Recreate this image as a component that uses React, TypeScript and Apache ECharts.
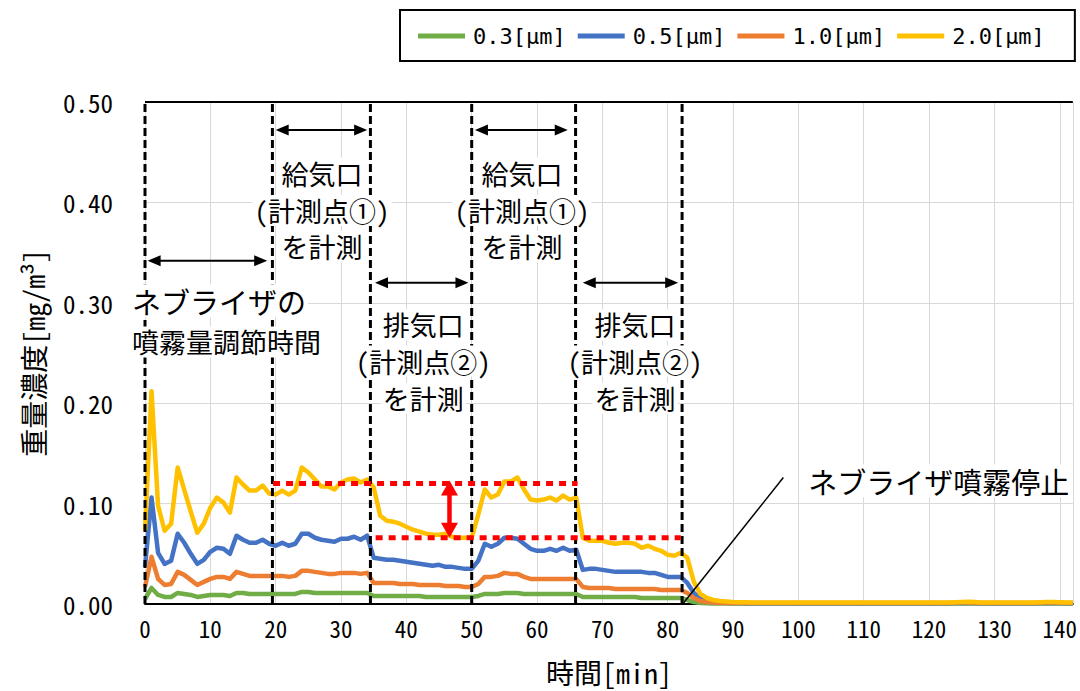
import { useEffect, useRef } from 'react';
import * as echarts from 'echarts';

// ---- data (time in minutes, mass concentration in mg/m3) ----
const TIME_MIN = [
  0, 1, 2, 3, 4, 5, 6, 7, 8, 9,
  10, 11, 12, 13, 14, 15, 16, 17, 18, 19,
  20, 21, 22, 23, 24, 25, 26, 27, 28, 29,
  30, 31, 32, 33, 34, 35, 36, 37, 38, 39,
  40, 41, 42, 43, 44, 45, 46, 47, 48, 49,
  50, 51, 52, 53, 54, 55, 56, 57, 58, 59,
  60, 61, 62, 63, 64, 65, 66, 67, 68, 69,
  70, 71, 72, 73, 74, 75, 76, 77, 78, 79,
  80, 81, 82, 83, 84, 85, 86, 87, 88, 89,
  90, 91, 92, 93, 94, 95, 96, 97, 98, 99,
  100, 101, 102, 103, 104, 105, 106, 107, 108, 109,
  110, 111, 112, 113, 114, 115, 116, 117, 118, 119,
  120, 121, 122, 123, 124, 125, 126, 127, 128, 129,
  130, 131, 132, 133, 134, 135, 136, 137, 138, 139,
  140, 141, 142,
];

const PM03 = [
  0.005, 0.016, 0.009, 0.007, 0.007, 0.011, 0.010, 0.009, 0.007, 0.008,
  0.009, 0.009, 0.009, 0.008, 0.011, 0.011, 0.010, 0.010, 0.010, 0.010,
  0.010, 0.010, 0.010, 0.010, 0.012, 0.012, 0.011, 0.011, 0.011, 0.011,
  0.011, 0.011, 0.011, 0.011, 0.011, 0.008, 0.008, 0.008, 0.008, 0.008,
  0.008, 0.008, 0.008, 0.007, 0.007, 0.007, 0.007, 0.007, 0.007, 0.007,
  0.007, 0.008, 0.010, 0.010, 0.010, 0.011, 0.011, 0.011, 0.010, 0.010,
  0.010, 0.010, 0.010, 0.010, 0.010, 0.010, 0.010, 0.007, 0.007, 0.007,
  0.007, 0.007, 0.007, 0.007, 0.007, 0.007, 0.006, 0.006, 0.006, 0.006,
  0.006, 0.006, 0.006, 0.004, 0.002, 0.001, 0.0007, 0.0006, 0.0005, 0.0005,
  0.0005, 0.0005, 0.0005, 0.0005, 0.0005, 0.0005, 0.0005, 0.0005, 0.0005, 0.0005,
  0.0005, 0.0005, 0.0005, 0.0005, 0.0005, 0.0005, 0.0005, 0.0005, 0.0005, 0.0005,
  0.0005, 0.0005, 0.0005, 0.0005, 0.0005, 0.0005, 0.0005, 0.0005, 0.0005, 0.0005,
  0.0005, 0.0005, 0.0005, 0.0005, 0.0005, 0.0005, 0.0005, 0.0005, 0.0005, 0.0005,
  0.0005, 0.0005, 0.0005, 0.0005, 0.0005, 0.0005, 0.0005, 0.0005, 0.0005, 0.0005,
  0.0005, 0.0005, 0.0005,
];

const PM05 = [
  0.037, 0.106, 0.051, 0.040, 0.043, 0.070, 0.061, 0.050, 0.040, 0.044,
  0.052, 0.056, 0.055, 0.050, 0.068, 0.064, 0.061, 0.061, 0.064, 0.060,
  0.058, 0.061, 0.058, 0.060, 0.070, 0.070, 0.066, 0.064, 0.063, 0.062,
  0.065, 0.065, 0.067, 0.064, 0.068, 0.046, 0.045, 0.044, 0.044, 0.043,
  0.042, 0.041, 0.040, 0.039, 0.038, 0.039, 0.037, 0.037, 0.036, 0.035,
  0.035, 0.043, 0.060, 0.057, 0.060, 0.066, 0.066, 0.065, 0.060, 0.055,
  0.053, 0.053, 0.055, 0.053, 0.056, 0.053, 0.054, 0.034, 0.035, 0.035,
  0.034, 0.033, 0.032, 0.032, 0.032, 0.032, 0.032, 0.031, 0.031, 0.029,
  0.027, 0.027, 0.027, 0.021, 0.011, 0.005, 0.003, 0.002, 0.0015, 0.0012,
  0.0010, 0.0009, 0.0008, 0.0008, 0.0008, 0.0008, 0.0008, 0.0008, 0.0008, 0.0008,
  0.0008, 0.0008, 0.0008, 0.0008, 0.0008, 0.0008, 0.0008, 0.0008, 0.0008, 0.0008,
  0.0008, 0.0008, 0.0008, 0.0008, 0.0008, 0.0008, 0.0008, 0.0008, 0.0008, 0.0008,
  0.0008, 0.0008, 0.0008, 0.0008, 0.0009, 0.0010, 0.0010, 0.0009, 0.0008, 0.0008,
  0.0008, 0.0008, 0.0008, 0.0008, 0.0008, 0.0008, 0.0008, 0.0009, 0.0010, 0.0010,
  0.0009, 0.0008, 0.0008,
];

const PM10 = [
  0.017, 0.047, 0.025, 0.019, 0.020, 0.032, 0.029, 0.024, 0.019, 0.022,
  0.025, 0.027, 0.027, 0.025, 0.032, 0.030, 0.028, 0.028, 0.028, 0.028,
  0.028, 0.028, 0.027, 0.028, 0.033, 0.033, 0.032, 0.031, 0.030, 0.030,
  0.031, 0.031, 0.031, 0.030, 0.031, 0.021, 0.021, 0.021, 0.021, 0.020,
  0.020, 0.020, 0.019, 0.019, 0.019, 0.019, 0.018, 0.018, 0.018, 0.017,
  0.017, 0.020, 0.027, 0.027, 0.028, 0.031, 0.030, 0.030, 0.027, 0.025,
  0.025, 0.025, 0.025, 0.025, 0.025, 0.025, 0.025, 0.017, 0.016, 0.016,
  0.016, 0.016, 0.015, 0.015, 0.015, 0.015, 0.015, 0.015, 0.015, 0.014,
  0.014, 0.014, 0.014, 0.011, 0.006, 0.003, 0.002, 0.0015, 0.0012, 0.0011,
  0.0010, 0.0010, 0.0010, 0.0010, 0.0010, 0.0010, 0.0010, 0.0010, 0.0010, 0.0010,
  0.0010, 0.0010, 0.0010, 0.0010, 0.0010, 0.0010, 0.0010, 0.0010, 0.0010, 0.0010,
  0.0010, 0.0010, 0.0010, 0.0010, 0.0010, 0.0010, 0.0010, 0.0010, 0.0010, 0.0010,
  0.0010, 0.0010, 0.0010, 0.0011, 0.0013, 0.0016, 0.0016, 0.0013, 0.0011, 0.0010,
  0.0010, 0.0010, 0.0010, 0.0010, 0.0010, 0.0010, 0.0011, 0.0013, 0.0015, 0.0015,
  0.0012, 0.0010, 0.0010,
];

const PM20 = [
  0.073, 0.212, 0.098, 0.073, 0.080, 0.136, 0.114, 0.092, 0.071, 0.080,
  0.096, 0.106, 0.101, 0.091, 0.126, 0.119, 0.113, 0.113, 0.118, 0.110,
  0.109, 0.113, 0.109, 0.113, 0.136, 0.131, 0.124, 0.117, 0.117, 0.114,
  0.121, 0.124, 0.125, 0.121, 0.124, 0.116, 0.088, 0.083, 0.082, 0.080,
  0.077, 0.074, 0.072, 0.070, 0.069, 0.069, 0.070, 0.067, 0.066, 0.066,
  0.066, 0.089, 0.114, 0.106, 0.109, 0.122, 0.122, 0.126, 0.114, 0.104,
  0.103, 0.104, 0.106, 0.103, 0.108, 0.104, 0.106, 0.066, 0.063, 0.063,
  0.063, 0.061, 0.060, 0.061, 0.061, 0.060, 0.056, 0.058, 0.055, 0.053,
  0.049, 0.048, 0.051, 0.046, 0.022, 0.010, 0.006, 0.004, 0.003, 0.0025,
  0.0020, 0.0018, 0.0017, 0.0016, 0.0015, 0.0015, 0.0014, 0.0015, 0.0015, 0.0014,
  0.0015, 0.0015, 0.0014, 0.0015, 0.0016, 0.0015, 0.0014, 0.0015, 0.0015, 0.0014,
  0.0015, 0.0016, 0.0015, 0.0014, 0.0015, 0.0015, 0.0014, 0.0015, 0.0015, 0.0016,
  0.0015, 0.0014, 0.0015, 0.0016, 0.0018, 0.0021, 0.0022, 0.0019, 0.0016, 0.0015,
  0.0014, 0.0015, 0.0015, 0.0014, 0.0015, 0.0015, 0.0016, 0.0018, 0.0020, 0.0021,
  0.0018, 0.0016, 0.0015,
];

const SERIES_NAMES = ['0.3[μm]', '0.5[μm]', '1.0[μm]', '2.0[μm]'];
const SERIES_DATA = [PM03, PM05, PM10, PM20];
const SERIES_COLORS = ['#70AD47', '#4472C4', '#ED7D31', '#FFC000'];

const X_TITLE = '時間[min]';
const Y_TITLE = '重量濃度[mg/m³]';
const X_MAX = 142;
const Y_MAX = 0.5;

// phase boundaries (min) and annotations in data coordinates
const PHASE_BOUNDARIES = [0, 19.5, 34.5, 50, 65.9, 82.2];
const PHASE_ARROWS = [
  { from: 0.4, to: 18.7, y: 0.342 },
  { from: 20.0, to: 34.0, y: 0.472 },
  { from: 35.2, to: 49.5, y: 0.32 },
  { from: 50.5, to: 64.7, y: 0.472 },
  { from: 67.0, to: 81.6, y: 0.32 },
];
const LEVEL_LINES = [
  { from: 19.6, to: 66.2, y: 0.12 },
  { from: 35.3, to: 82.0, y: 0.066 },
];
const DIFF_ARROW = { x: 46.6, top: 0.123, bottom: 0.066 };
const STOP_LEADER = { x1: 97.7, y1: 0.126, x2: 82.3, y2: 0 };
const ANNOTATIONS = [
  { x: -2.3, y: 0.302, text: 'ネブライザの', align: 'left', size: 29 },
  { x: -2.3, y: 0.261, text: '噴霧量調節時間', align: 'left', size: 27 },
  { x: 27.1, y: 0.429, text: '給気口', align: 'center', size: 27 },
  { x: 27.1, y: 0.392, text: '(計測点①)', align: 'center', size: 27 },
  { x: 27.1, y: 0.356, text: 'を計測', align: 'center', size: 27 },
  { x: 42.6, y: 0.278, text: '排気口', align: 'center', size: 27 },
  { x: 42.6, y: 0.242, text: '(計測点②)', align: 'center', size: 27 },
  { x: 42.6, y: 0.205, text: 'を計測', align: 'center', size: 27 },
  { x: 57.7, y: 0.429, text: '給気口', align: 'center', size: 27 },
  { x: 57.7, y: 0.392, text: '(計測点①)', align: 'center', size: 27 },
  { x: 57.7, y: 0.356, text: 'を計測', align: 'center', size: 27 },
  { x: 75.0, y: 0.278, text: '排気口', align: 'center', size: 27 },
  { x: 75.0, y: 0.242, text: '(計測点②)', align: 'center', size: 27 },
  { x: 75.0, y: 0.205, text: 'を計測', align: 'center', size: 27 },
  { x: 101.2, y: 0.1228, text: 'ネブライザ噴霧停止', align: 'left', size: 29 },
];

const MONO = "'Noto Sans Mono CJK JP', 'Noto Sans CJK JP', sans-serif";
const LEGEND_FONT = "'DejaVu Sans Mono', monospace";

export default function App() {
  const ref = useRef<HTMLDivElement>(null);

  useEffect(() => {
    if (!ref.current) return;
    const chart = echarts.init(ref.current, undefined, { renderer: 'svg' });

    chart.setOption({
      animation: false,
      backgroundColor: '#ffffff',
      grid: { left: 145, top: 102, right: 2, bottom: 84, containLabel: false },
      legend: {
        left: 400,
        top: 10,
        orient: 'horizontal',
        icon: 'rect',
        itemWidth: 47,
        itemHeight: 5,
        itemGap: 12,
        padding: [15, 30, 14, 18],
        borderColor: '#000',
        borderWidth: 2,
        textStyle: { fontFamily: LEGEND_FONT, fontSize: 22, color: '#000', padding: [0, 0, 0, 3] },
        data: SERIES_NAMES,
      },
      xAxis: {
        type: 'value',
        min: 0,
        max: X_MAX,
        interval: 10,
        name: X_TITLE,
        nameLocation: 'middle',
        nameGap: 54,
        nameTextStyle: { fontFamily: MONO, fontSize: 28, color: '#000' },
        axisLine: { show: true, lineStyle: { color: '#000', width: 2 } },
        axisTick: { show: false },
        axisLabel: {
          margin: 13,
          fontFamily: MONO,
          fontSize: 23,
          color: '#000',
          formatter: (v: number) => (v % 10 === 0 ? String(v) : ''),
        },
        splitLine: { show: true, lineStyle: { color: '#d9d9d9', width: 1 } },
      },
      yAxis: {
        type: 'value',
        min: 0,
        max: Y_MAX,
        interval: 0.1,
        name: Y_TITLE,
        nameLocation: 'middle',
        nameRotate: 90,
        nameGap: 98,
        nameTextStyle: { fontFamily: MONO, fontSize: 28, color: '#000' },
        axisLine: { show: false },
        axisTick: { show: false },
        axisLabel: {
          margin: 32,
          fontFamily: MONO,
          fontSize: 25,
          color: '#000',
          formatter: (v: number) => v.toFixed(2),
        },
        splitLine: { show: true, lineStyle: { color: '#d9d9d9', width: 1 } },
      },
      series: SERIES_NAMES.map((name, i) => ({
        name,
        type: 'line',
        showSymbol: false,
        symbol: 'none',
        smooth: false,
        clip: true,
        color: SERIES_COLORS[i],
        lineStyle: { width: 4.5, color: SERIES_COLORS[i], join: 'round' },
        data: TIME_MIN.map((t, k) => [t, SERIES_DATA[i][k]]),
      })),
    });

    const px = (x: number, y: number) =>
      chart.convertToPixel({ gridIndex: 0 } as any, [x, y]) as number[];

    const head = (tip: number[], dir: number[], len: number, half: number, fill: string, z: number) => {
      const bx = tip[0] - dir[0] * len;
      const by = tip[1] - dir[1] * len;
      const nx = -dir[1];
      const ny = dir[0];
      return {
        type: 'polygon',
        z,
        shape: { points: [[tip[0], tip[1]], [bx + nx * half, by + ny * half], [bx - nx * half, by - ny * half]] },
        style: { fill, stroke: null },
      };
    };

    const doubleArrow = (a: number[], b: number[], len: number, half: number, width: number, color: string, z: number) => {
      const dx = b[0] - a[0];
      const dy = b[1] - a[1];
      const d = Math.hypot(dx, dy);
      const u = [dx / d, dy / d];
      return [
        {
          type: 'line',
          z,
          shape: { x1: a[0] + u[0] * (len - 1), y1: a[1] + u[1] * (len - 1), x2: b[0] - u[0] * (len - 1), y2: b[1] - u[1] * (len - 1) },
          style: { stroke: color, lineWidth: width },
        },
        head(b, u, len, half, color, z),
        head(a, [-u[0], -u[1]], len, half, color, z),
      ];
    };

    const graphics: any[] = [];

    // top frame line
    {
      const a = px(0, Y_MAX);
      const b = px(X_MAX, Y_MAX);
      graphics.push({ type: 'line', z: 50, shape: { x1: a[0], y1: a[1], x2: b[0], y2: b[1] }, style: { stroke: '#000', lineWidth: 2 } });
    }

    PHASE_BOUNDARIES.forEach((xv) => {
      const a = px(xv, 0);
      const b = px(xv, Y_MAX);
      graphics.push({
        type: 'line',
        z: 50,
        shape: { x1: a[0], y1: a[1], x2: b[0], y2: b[1] },
        style: { stroke: '#000', lineWidth: 3, lineDash: [8, 4] },
      });
    });

    LEVEL_LINES.forEach((l) => {
      const a = px(l.from, l.y);
      const b = px(l.to, l.y);
      graphics.push({
        type: 'line',
        z: 51,
        shape: { x1: a[0], y1: a[1], x2: b[0], y2: b[1] },
        style: { stroke: '#ff0000', lineWidth: 5, lineDash: [7, 6] },
      });
    });

    PHASE_ARROWS.forEach((ar) => {
      graphics.push(...doubleArrow(px(ar.from, ar.y), px(ar.to, ar.y), 13, 5.5, 2, '#000', 52));
    });

    graphics.push(...doubleArrow(px(DIFF_ARROW.x, DIFF_ARROW.top), px(DIFF_ARROW.x, DIFF_ARROW.bottom), 15, 8.5, 4.5, '#ff0000', 53));

    {
      const a = px(STOP_LEADER.x1, STOP_LEADER.y1);
      const b = px(STOP_LEADER.x2, STOP_LEADER.y2);
      graphics.push({ type: 'line', z: 54, shape: { x1: a[0], y1: a[1], x2: b[0], y2: b[1] }, style: { stroke: '#000', lineWidth: 1.5 } });
    }

    ANNOTATIONS.forEach((t) => {
      const p = px(t.x, t.y);
      graphics.push({
        type: 'text',
        z: 60,
        x: p[0],
        y: p[1],
        style: {
          text: t.text,
          fontFamily: MONO,
          fontSize: t.size,
          fill: '#000',
          align: t.align,
          verticalAlign: 'middle',
          backgroundColor: '#ffffff',
          padding: [2, 2],
        },
      });
    });

    chart.setOption({ graphic: graphics });

    return () => chart.dispose();
  }, []);

  return (
    <div
      ref={ref}
      style={{ position: 'fixed', left: 0, top: 0, width: 1080, height: 691, background: '#fff' }}
    />
  );
}
